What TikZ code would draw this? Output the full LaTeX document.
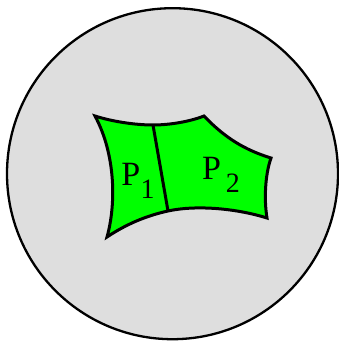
\documentclass[tikz,border=0pt]{standalone}
\usepackage{fontspec}
\setmainfont{Liberation Serif}
\colorlet{discgray}{black!13}
\colorlet{patchgreen}{green}

\newcommand{\patchlabel}[2]{P\hspace{#2}\raisebox{-0.4em}{\fontsize{28}{28}\selectfont #1}}

\begin{document}
\begin{tikzpicture}[
    x=1pt, y=-1pt,
    disc/.style={
        draw=black, fill=discgray, line width=2.3pt
    },
    patch/.style={
        draw=black, fill=patchgreen, line width=3pt, line join=miter
    },
    cut/.style={
        draw=black, line width=3pt
    },
    plabel/.style={
        font=\fontsize{34}{34}\selectfont, inner sep=0pt
    }
]
\useasboundingbox (0,0) rectangle (338,345);

% ===== Disc =====
\coordinate (o) at (172.5,173.7);
\draw[disc] (o) circle[radius=165.5];

% ===== Corners of the patch =====
\coordinate (a) at (95,116);
\coordinate (b) at (153,125);
\coordinate (c) at (204,116);
\coordinate (d) at (271,158);
\coordinate (e) at (267,218);
\coordinate (f) at (168,211);
\coordinate (g) at (107,237);

% ===== Patch =====
\draw[patch] (a) .. controls (112,121.5) and (135,125) .. (b)
    .. controls (170,125) and (190,121.5) .. (c)
    .. controls (225,138) and (245,150) .. (d)
    .. controls (265,175) and (264,200) .. (e)
    .. controls (235,208) and (195,205) .. (f)
    .. controls (145,216) and (125,225) .. (g)
    .. controls (116,205) and (116,155) .. cycle;
\draw[cut] (b) -- (f);

% ===== Labels =====
\node[plabel] (p1) at (138,181) {\patchlabel{1}{0.5pt}};
\node[plabel] (p2) at (221,175) {\patchlabel{2}{5pt}};

\end{tikzpicture}
\end{document}
